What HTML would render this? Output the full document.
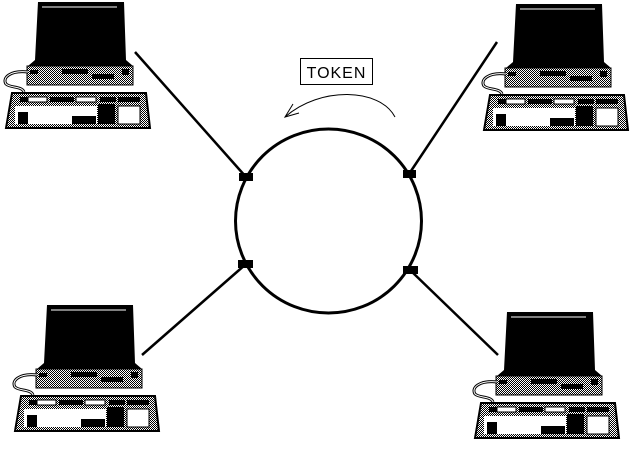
<!DOCTYPE html>
<html><head><style>html,body{margin:0;padding:0;background:#fff}</style></head><body>
<svg width="640" height="450" viewBox="0 0 640 450" xmlns="http://www.w3.org/2000/svg">
<defs>
<pattern id="ck" width="2" height="2" patternUnits="userSpaceOnUse"><rect width="2" height="2" fill="#fff"/><rect width="1" height="1" fill="#000"/><rect x="1" y="1" width="1" height="1" fill="#000"/></pattern>
<g id="pc">
<path d="M38 2 H124 L126 60 L133 66 H28 L35 60 Z" fill="#000"/>
<line x1="42" y1="7" x2="117" y2="7" stroke="#fff" stroke-width="1"/>
<rect x="27" y="66" width="106" height="19" fill="url(#ck)" stroke="#000"/>
<rect x="30" y="70" width="8" height="4" fill="#000"/>
<rect x="62" y="69" width="26" height="5" fill="#000"/>
<rect x="92" y="74" width="22" height="5" fill="#000"/>
<rect x="122" y="69" width="7" height="6" fill="#000"/>
<path d="M28 72 C10 70 2 78 6 84 C10 88 22 86 24 92" fill="none" stroke="#000" stroke-width="3"/>
<path d="M28 72 C10 70 2 78 6 84 C10 88 22 86 24 92" fill="none" stroke="#fff" stroke-width="1"/>
<path d="M12 93 H146 L150 128 H6 Z" fill="url(#ck)" stroke="#000" stroke-width="2"/>
<rect x="20" y="97" width="8" height="5" fill="#000"/>
<rect x="28" y="97" width="19" height="5" fill="#fff" stroke="#000"/>
<rect x="50" y="97" width="24" height="5" fill="#000"/>
<rect x="76" y="97" width="20" height="5" fill="#fff" stroke="#000"/>
<rect x="100" y="97" width="16" height="5" fill="#000"/>
<rect x="118" y="97" width="22" height="5" fill="#000"/>
<rect x="15" y="106" width="82" height="18" fill="#fff"/>
<rect x="18" y="112" width="10" height="12" fill="#000"/>
<rect x="72" y="116" width="24" height="8" fill="#000"/>
<rect x="98" y="104" width="17" height="20" fill="#000"/>
<rect x="118" y="106" width="22" height="18" fill="#fff" stroke="#000"/>
</g>
</defs>
<use href="#pc" x="0" y="0"/>
<use href="#pc" x="478" y="2"/>
<use href="#pc" x="9" y="303"/>
<use href="#pc" x="469" y="310"/>
<g stroke="#000" stroke-width="2.5">
<line x1="135" y1="52" x2="246" y2="177"/>
<line x1="497" y1="42" x2="409" y2="174"/>
<line x1="142" y1="355" x2="246" y2="264"/>
<line x1="498" y1="355" x2="410" y2="270"/>
</g>
<ellipse cx="328.5" cy="221" rx="93" ry="92" fill="none" stroke="#000" stroke-width="3"/>
<g fill="#000">
<rect x="239" y="173" width="14" height="8"/>
<rect x="403" y="170" width="13" height="8"/>
<rect x="238" y="260" width="15" height="8"/>
<rect x="403" y="266" width="15" height="8"/>
</g>
<rect x="300.5" y="58.5" width="72" height="26" fill="#fff" stroke="#000"/>
<text x="336.5" y="78" font-family="Liberation Sans, sans-serif" font-size="16" letter-spacing="1" text-anchor="middle" fill="#000">TOKEN</text>
<path d="M395 117 C380 88 320 86 285 117" fill="none" stroke="#000" stroke-width="1"/>
<path d="M293 104 L285 117 L299 113" fill="none" stroke="#000" stroke-width="1"/>
</svg>
</body></html>
